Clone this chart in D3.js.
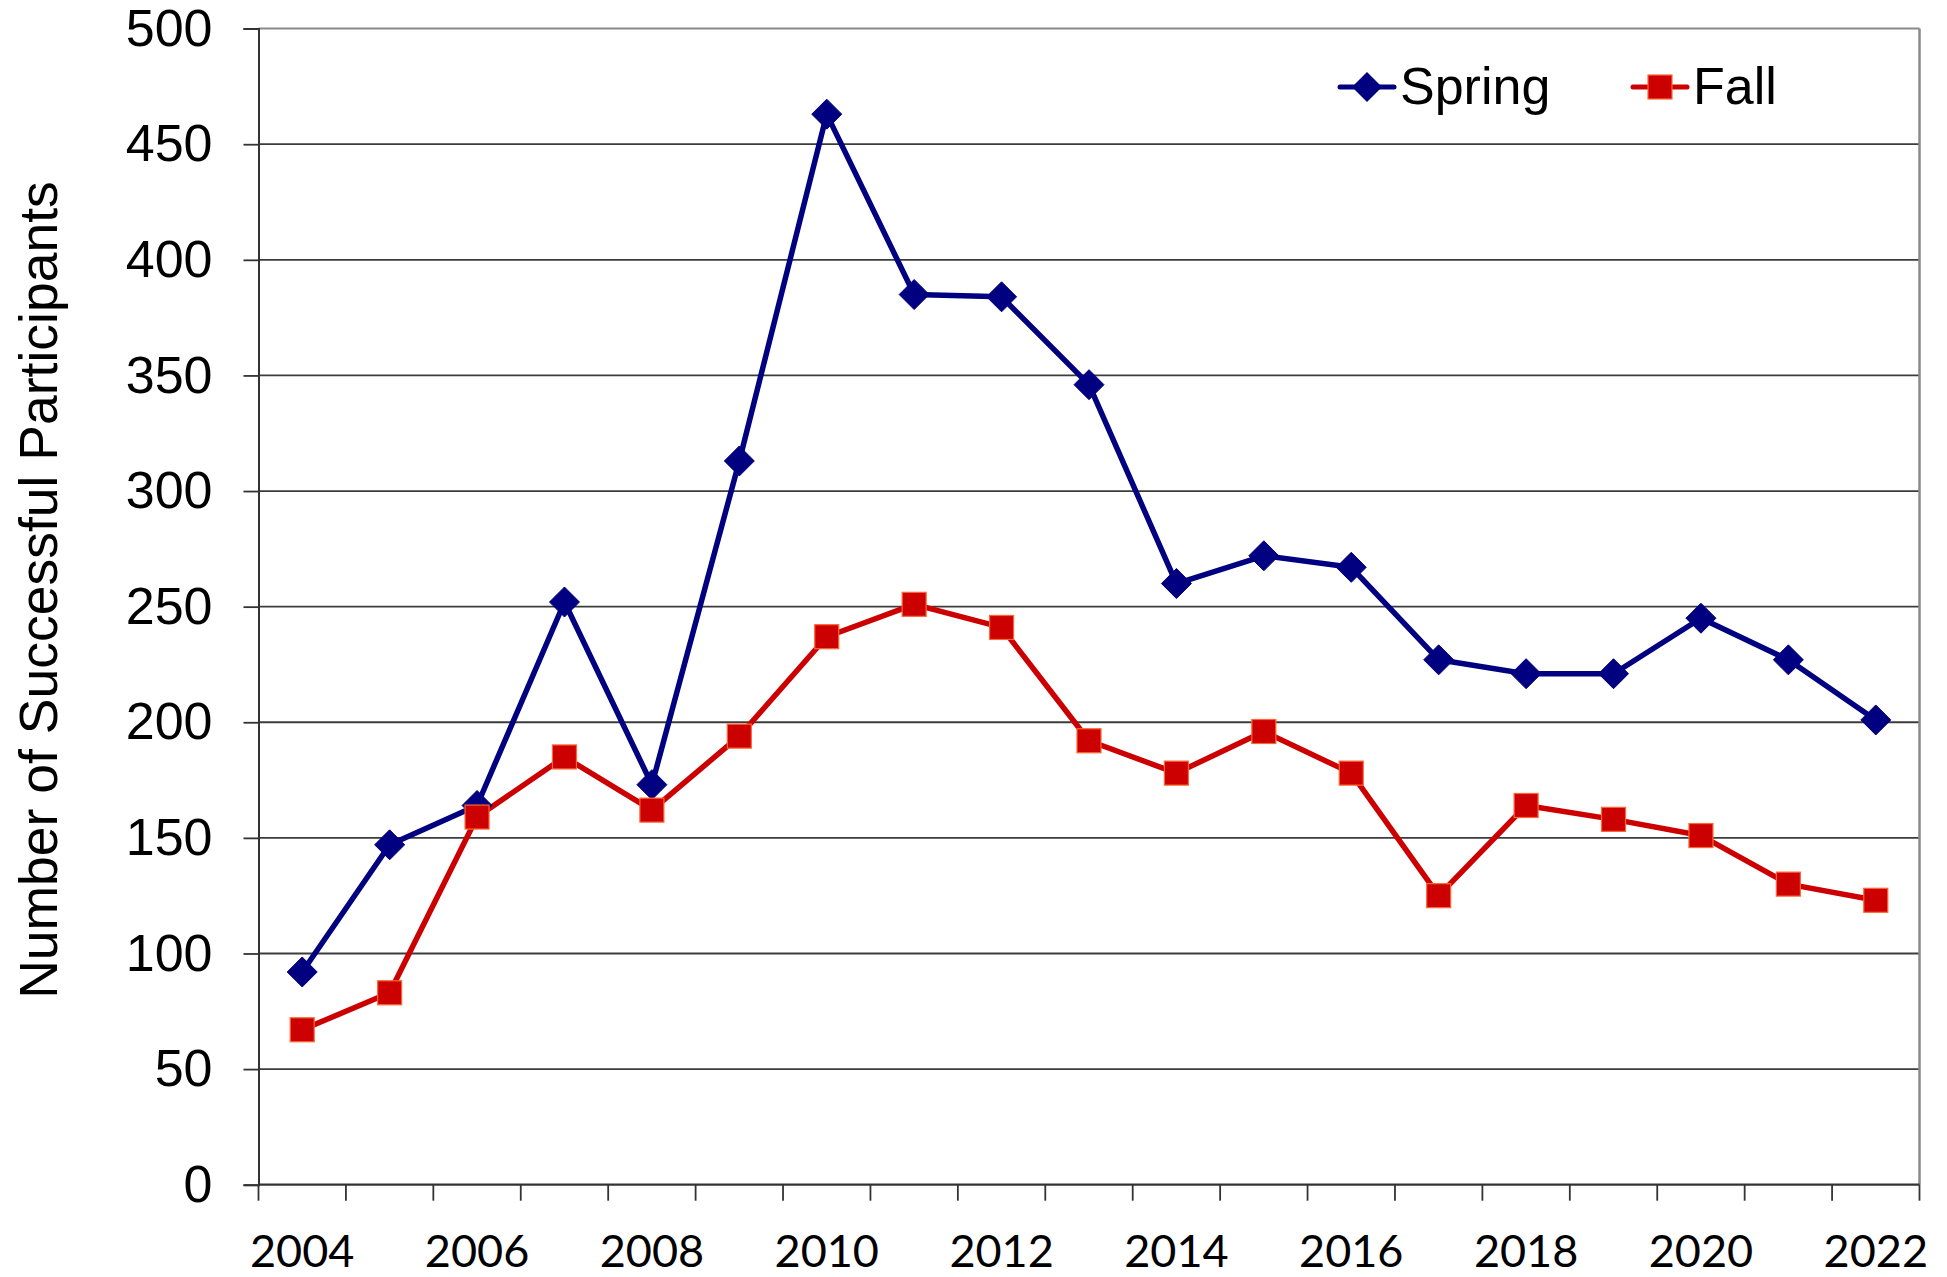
<!DOCTYPE html>
<html><head><meta charset="utf-8">
<script src="https://cdn.jsdelivr.net/npm/d3@7"></script>
<style>html,body{margin:0;padding:0;background:#fff;}svg{display:block;}</style>
</head><body>
<svg id="chart" width="1947" height="1277"></svg>
<script>
const years = [2004,2005,2006,2007,2008,2009,2010,2011,2012,2013,2014,2015,2016,2017,2018,2019,2020,2021,2022];
const spring = [92,147,164,252,173,313,463,385,384,346,260,272,267,227,221,221,245,227,201];
const fall = [67,83,159,185,162,194,237,251,241,192,178,196,178,125,164,158,151,130,123];
const yTicks = [0,50,100,150,200,250,300,350,400,450,500];
const xLabels = [2004,2006,2008,2010,2012,2014,2016,2018,2020,2022];
const seriesNames = ["Spring","Fall"];

const svg = d3.select("#chart");
const L = 258.5, R = 1919.5, T = 28.6, B = 1184.7;
const x = d3.scaleBand().domain(years).range([L, R]).padding(0);
const y = d3.scaleLinear().domain([0, 500]).range([B, T]);
const cx = d => x(d) + x.bandwidth()/2;

// gridlines
svg.append("g").selectAll("line").data(yTicks.filter(v => v > 0 && v < 500)).join("line")
  .attr("x1", L).attr("x2", R).attr("y1", d => y(d)).attr("y2", d => y(d))
  .attr("stroke", "#3c3c3c").attr("stroke-width", 1.8);
// top & right border
svg.append("line").attr("x1", L).attr("x2", R).attr("y1", y(500)).attr("y2", y(500)).attr("stroke", "#8a8a8a").attr("stroke-width", 2);
svg.append("line").attr("x1", R).attr("x2", R).attr("y1", T).attr("y2", B).attr("stroke", "#8a8a8a").attr("stroke-width", 2.5);

// y axis
const yAxis = d3.axisLeft(y).tickValues(yTicks).tickSize(15).tickPadding(31);
const gy = svg.append("g").attr("transform", `translate(${L},0)`).call(yAxis);
gy.select(".domain").attr("stroke", "#333").attr("stroke-width", 2);
gy.selectAll(".tick line").attr("stroke", "#333").attr("stroke-width", 1.8);
gy.selectAll(".tick text").attr("font-family", "'Liberation Sans', Arial, sans-serif").attr("font-size", 52).attr("fill", "#000");

// x axis
const gx = svg.append("g").attr("transform", `translate(0,${B})`);
gx.append("line").attr("x1", L).attr("x2", R).attr("stroke", "#333").attr("stroke-width", 2.2);
gx.selectAll("line.tk").data(years.concat([null])).join("line").attr("class","tk")
  .attr("x1", d => d === null ? R : x(d)).attr("x2", d => d === null ? R : x(d))
  .attr("y1", 0).attr("y2", 16).attr("stroke", "#333").attr("stroke-width", 1.8);
gx.selectAll("text").data(xLabels).join("text")
  .attr("x", d => cx(d)).attr("y", 82).attr("text-anchor", "middle")
  .attr("font-family", "Lato, 'Open Sans', sans-serif").attr("font-size", 45).attr("fill", "#000")
  .text(d => d);

// y title
svg.append("text").attr("transform", "translate(57,590) rotate(-90)")
  .attr("text-anchor", "middle").attr("font-family", "'Liberation Sans', Arial, sans-serif")
  .attr("font-size", 53.5).attr("fill", "#000").text("Number of Successful Participants");

const line = d3.line().x((d,i) => cx(years[i])).y(d => y(d));
const springColor = "#000080", fallColor = "#CC0000";

svg.append("path").datum(spring).attr("d", line).attr("fill", "none").attr("stroke", springColor).attr("stroke-width", 5.5).attr("stroke-linejoin", "round");
svg.append("path").datum(fall).attr("d", line).attr("fill", "none").attr("stroke", fallColor).attr("stroke-width", 5.5).attr("stroke-linejoin", "round");

const diamond = s => `M0,${-s}L${s},0L0,${s}L${-s},0Z`;
svg.append("g").selectAll("path").data(spring).join("path")
  .attr("transform", (d,i) => `translate(${cx(years[i])},${y(d)})`)
  .attr("d", diamond(15)).attr("fill", springColor).attr("stroke", springColor).attr("stroke-width", 1);
svg.append("g").selectAll("rect").data(fall).join("rect")
  .attr("x", (d,i) => cx(years[i]) - 12).attr("y", d => y(d) - 12)
  .attr("width", 24).attr("height", 24).attr("fill", fallColor).attr("stroke", "#FF6633").attr("stroke-width", 1.2);

// legend
const lg = svg.append("g");
const legendItems = [
  {name: seriesNames[0], x1: 1340, x2: 1394, cxm: 1367, tx: 1400, color: springColor, shape: "d"},
  {name: seriesNames[1], x1: 1633, x2: 1687, cxm: 1660, tx: 1693, color: fallColor, shape: "s"}
];
const ly = 87;
legendItems.forEach(it => {
  lg.append("line").attr("x1", it.x1).attr("x2", it.x2).attr("y1", ly).attr("y2", ly)
    .attr("stroke", it.color).attr("stroke-width", 5).attr("stroke-linecap", "round");
  if (it.shape === "d") {
    lg.append("path").attr("transform", `translate(${it.cxm},${ly})`).attr("d", diamond(15)).attr("fill", it.color);
  } else {
    lg.append("rect").attr("x", it.cxm-12).attr("y", ly-12).attr("width", 24).attr("height", 24)
      .attr("fill", it.color).attr("stroke", "#FF6633").attr("stroke-width", 1.2);
  }
  lg.append("text").attr("x", it.tx).attr("y", 104).attr("font-family", "'Liberation Sans', Arial, sans-serif")
    .attr("font-size", 52).attr("fill", "#000").text(it.name);
});
</script>
</body></html>
